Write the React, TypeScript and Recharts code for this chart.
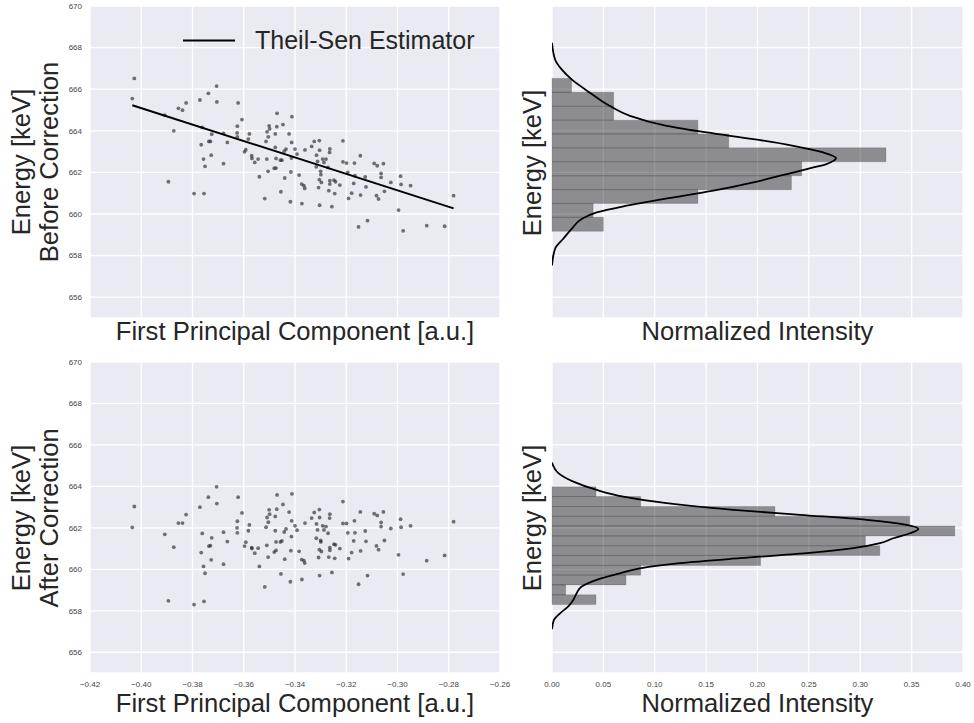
import {
  CartesianGrid,
  Legend,
  ReferenceArea,
  Scatter,
  ScatterChart,
  XAxis,
  YAxis,
} from "recharts";

const FONT = '"Liberation Sans", Arial, sans-serif';
const BG = "#EAEAF2";
const TEXT = "#262626";

// first principal component of each event (shared by both scatter panels)
const principal = [
  -0.4027, -0.4035, -0.3908, -0.3873, -0.3894, -0.3855, -0.3839, -0.3825, -0.3794, -0.3771,
  -0.3766, -0.3762, -0.3757, -0.3755, -0.3751, -0.3738, -0.3736, -0.373, -0.3727, -0.3725,
  -0.3706, -0.3705, -0.3679, -0.3679, -0.3664, -0.3622, -0.3625, -0.3626, -0.3625, -0.3607,
  -0.3597, -0.3592, -0.3582, -0.3578, -0.3569, -0.3568, -0.3557, -0.3544, -0.3539, -0.3518,
  -0.3513, -0.351, -0.3509, -0.3504, -0.3501, -0.3499, -0.3505, -0.3477, -0.3477, -0.3474,
  -0.3471, -0.347, -0.3481, -0.3474, -0.3457, -0.3451, -0.3455, -0.3447, -0.3442, -0.3435,
  -0.344, -0.3423, -0.3418, -0.3416, -0.3412, -0.3413, -0.3414, -0.34, -0.3392, -0.3384,
  -0.3374, -0.3373, -0.3365, -0.3362, -0.3361, -0.3335, -0.3325, -0.3316, -0.3317, -0.3312,
  -0.3305, -0.3304, -0.3308, -0.3304, -0.33, -0.3299, -0.3305, -0.3297, -0.3292, -0.3287,
  -0.3279, -0.3271, -0.3268, -0.3264, -0.3265, -0.3264, -0.3264, -0.3256, -0.3248, -0.3242,
  -0.3245, -0.3225, -0.3213, -0.3213, -0.3199, -0.3191, -0.3194, -0.3179, -0.3171, -0.3168,
  -0.3166, -0.3152, -0.3145, -0.3144, -0.3126, -0.3123, -0.3117, -0.3091, -0.3079, -0.3082,
  -0.3074, -0.3064, -0.3064, -0.3055, -0.3051, -0.3026, -0.2996, -0.2988, -0.2986, -0.2978,
  -0.2949, -0.2886, -0.2816, -0.2781,
];

const energyBefore = [
  666.52, 665.55, 664.75, 664.0, 661.55, 665.08, 664.99, 665.34, 660.98, 665.48,
  663.33, 664.16, 662.64, 660.98, 662.29, 665.8, 663.49, 663.49, 662.83, 663.84,
  666.15, 665.39, 662.42, 663.88, 663.44, 665.34, 664.22, 663.9, 663.71, 664.54,
  662.99, 663.09, 663.6, 663.85, 662.8, 662.67, 662.48, 662.64, 661.79, 660.74,
  663.49, 662.64, 663.95, 663.71, 664.24, 664.09, 662.05, 663.85, 663.2, 662.67,
  664.2, 664.84, 662.2, 662.21, 662.59, 662.59, 661.07, 664.3, 663.02, 663.12,
  661.73, 663.85, 660.59, 662.02, 664.68, 663.44, 662.69, 663.12, 662.88, 661.87,
  661.44, 660.5, 661.36, 661.23, 663.08, 663.25, 663.49, 662.83, 662.27, 662.53,
  663.53, 663.07, 661.27, 660.42, 662.05, 661.89, 661.65, 661.52, 662.64, 662.48,
  662.64, 662.24, 661.12, 663.13, 662.96, 661.6, 661.44, 660.35, 661.63, 661.55,
  660.98, 661.39, 663.52, 662.51, 662.45, 660.75, 662.0, 661.0, 661.47, 662.45,
  661.84, 659.38, 662.8, 660.91, 661.78, 661.3, 659.68, 662.43, 662.32, 660.88,
  660.72, 661.95, 661.76, 662.42, 661.09, 661.52, 660.19, 661.82, 661.42, 659.19,
  661.36, 659.44, 659.41, 660.88,
];

const energyAfter = [
  663.03, 662.02, 661.69, 661.07, 658.48, 662.23, 662.23, 662.64, 658.3, 663.0,
  660.81, 661.73, 660.14, 658.45, 659.81, 663.48, 661.12, 661.14, 660.46, 661.52,
  663.98, 663.17, 660.25, 661.79, 661.34, 663.48, 662.32, 662.0, 661.76, 662.72,
  661.12, 661.31, 661.86, 662.14, 661.05, 661.0, 660.78, 661.02, 660.14, 659.15,
  662.03, 661.16, 662.5, 662.27, 662.87, 662.66, 660.59, 662.55, 661.86, 661.32,
  662.9, 663.59, 660.83, 660.91, 661.32, 661.37, 659.78, 663.13, 661.8, 661.95,
  660.49, 662.76, 659.4, 660.9, 663.64, 662.34, 661.58, 662.1, 661.89, 660.87,
  660.47, 659.51, 660.42, 660.3, 662.23, 662.47, 662.74, 662.19, 661.5, 661.9,
  662.88, 662.5, 660.57, 659.7, 661.39, 661.32, 660.95, 660.86, 662.1, 661.9,
  662.06, 661.74, 660.59, 662.66, 662.47, 661.05, 660.92, 659.85, 661.21, 661.18,
  660.53, 661.0, 663.27, 662.21, 662.21, 660.52, 661.76, 660.81, 661.37, 662.34,
  661.76, 659.28, 662.77, 660.89, 661.85, 661.35, 659.7, 662.68, 662.6, 661.13,
  660.95, 662.26, 662.06, 662.77, 661.39, 661.97, 660.7, 662.42, 662.03, 659.77,
  662.1, 660.42, 660.67, 662.3,
];

// Theil-Sen fit end points
const fitPc = [-0.4035, -0.2781];
const fitEnergy = [665.23, 660.27];

// histograms (bin edges in keV, normalized heights)
const edgesBefore = [
  659.17, 659.84, 660.51, 661.17, 661.84, 662.51, 663.18, 663.85, 664.51, 665.18, 665.85, 666.52,
];
const histBefore = [0.05, 0.04, 0.142, 0.233, 0.243, 0.325, 0.172, 0.142, 0.06, 0.06, 0.019];

const edgesAfter = [
  658.3, 658.77, 659.25, 659.72, 660.19, 660.67, 661.14, 661.61, 662.09, 662.56, 663.03, 663.51,
  663.98,
];
const histAfter = [
  0.0428, 0.0133, 0.072, 0.0863, 0.203, 0.319, 0.305, 0.392, 0.348, 0.217, 0.0863, 0.0428,
];

// kernel density estimates
const kdeEnergyBefore = [
  668.23, 667.43, 666.95, 666.47, 665.83, 665.19, 664.72, 664.24, 663.92, 663.6, 663.28,
  662.96, 662.69, 662.4, 662.16, 661.84, 661.52, 661.12, 660.72, 660.4, 660.08, 659.76,
  659.28, 658.81, 658.33, 657.53,
];
const kdeBefore = [
  0, 0.003, 0.0094, 0.0191, 0.037, 0.0564, 0.0759, 0.1116, 0.1505, 0.196, 0.2349, 0.264,
  0.2764, 0.267, 0.248, 0.222, 0.196, 0.157, 0.108, 0.0727, 0.0435, 0.0289, 0.0191, 0.011,
  0.003, 0,
];

const kdeEnergyAfter = [
  665.15, 664.64, 664.23, 663.83, 663.51, 663.19, 662.87, 662.63, 662.39, 662.14, 661.95,
  661.74, 661.5, 661.26, 661.02, 660.78, 660.54, 660.3, 660.05, 659.81, 659.49, 659.17,
  658.85, 658.53, 658.21, 657.88, 657.56, 657.11,
];
const kdeAfter = [
  0, 0.0062, 0.0208, 0.0435, 0.0694, 0.1116, 0.1765, 0.2414, 0.3062, 0.3452, 0.3565,
  0.3484, 0.3322, 0.3192, 0.2933, 0.2479, 0.183, 0.1246, 0.0856, 0.0662, 0.0435, 0.0289,
  0.024, 0.0208, 0.0159, 0.0078, 0.0019, 0,
];

const energyTicks = [656, 658, 660, 662, 664, 666, 668, 670];
const pcTicks = [-0.42, -0.4, -0.38, -0.36, -0.34, -0.32, -0.3, -0.28, -0.26];
const intensityTicks = [0, 0.05, 0.1, 0.15, 0.2, 0.25, 0.3, 0.35, 0.4];

const toPoints = (xs: number[], ys: number[]) => xs.map((x, i) => ({ x, y: ys[i] }));
const beforeData = toPoints(principal, energyBefore);
const afterData = toPoints(principal, energyAfter);
const fitData = toPoints(fitPc, fitEnergy);
const kdeBeforeData = toPoints(kdeBefore, kdeEnergyBefore);
const kdeAfterData = toPoints(kdeAfter, kdeEnergyAfter);

const fmt = (v: number) => v.toFixed(2).replace("-", "\u2212");
const tickStyle = { fontSize: 8, fill: "#444", fontFamily: FONT };
const TITLE_SIZE = 25.6;

const Dot = (props: any) => (
  <circle cx={props.cx} cy={props.cy} r={1.9} fill="#1a1a1a" fillOpacity={0.6} />
);
const Empty = () => <g />;

function ScatterPanel({ data, top, showTicks, legend }: any) {
  const height = showTicks ? 393 : 330;
  return (
    <div style={{ position: "absolute", left: 0, top }}>
      <ScatterChart
        width={520}
        height={height}
        margin={showTicks ? { top: 32, right: 20, bottom: 30, left: 0 } : { top: 6, right: 20, bottom: 12, left: 0 }}
      >
        <CartesianGrid fill={BG} stroke="#fff" strokeWidth={1.3} />
        <XAxis
          type="number"
          dataKey="x"
          domain={[-0.42, -0.26]}
          ticks={pcTicks}
          allowDataOverflow
          axisLine={false}
          tickLine={false}
          tickSize={0}
          tickMargin={8}
          height={showTicks ? 20 : 0}
          tick={showTicks ? tickStyle : Empty}
          tickFormatter={fmt}
        />
        <YAxis
          type="number"
          dataKey="y"
          domain={[655, 670]}
          ticks={energyTicks}
          allowDataOverflow
          width={90}
          axisLine={false}
          tickLine={false}
          tickSize={0}
          tickMargin={8}
          tick={tickStyle}
        />
        <Scatter data={data} shape={Dot} isAnimationActive={false} />
        {legend && (
          <Scatter
            data={fitData}
            line={{ stroke: "#000", strokeWidth: 2 }}
            shape={Empty}
            isAnimationActive={false}
          />
        )}
        {legend && (
          <Legend
            verticalAlign="middle"
            align="center"
            layout="horizontal"
            wrapperStyle={{ left: 183, top: 27.5, width: 320, height: 25 }}
            content={() => (
              <div
                style={{
                  display: "flex",
                  alignItems: "center",
                  height: 25,
                  fontSize: 25,
                  lineHeight: "25px",
                  fontFamily: FONT,
                  color: TEXT,
                  whiteSpace: "nowrap",
                }}
              >
                <svg width={52} height={25}>
                  <line x1={0} x2={52} y1={12.5} y2={12.5} stroke="#000" strokeWidth={2} />
                </svg>
                <span style={{ marginLeft: 20 }}>Theil-Sen Estimator</span>
              </div>
            )}
          />
        )}
      </ScatterChart>
    </div>
  );
}

function HistPanel({ edges, hist, kde, top, showTicks }: any) {
  const height = showTicks ? 393 : 330;
  return (
    <div style={{ position: "absolute", left: 500, top }}>
      <ScatterChart
        width={474}
        height={height}
        margin={showTicks ? { top: 32, right: 11, bottom: 30, left: 0 } : { top: 6, right: 11, bottom: 12, left: 0 }}
      >
        <CartesianGrid fill={BG} stroke="#fff" strokeWidth={1.3} />
        <XAxis
          type="number"
          dataKey="x"
          domain={[0, 0.4]}
          ticks={intensityTicks}
          allowDataOverflow
          axisLine={false}
          tickLine={false}
          tickSize={0}
          tickMargin={8}
          height={showTicks ? 20 : 0}
          tick={showTicks ? tickStyle : Empty}
          tickFormatter={(v: number) => v.toFixed(2)}
        />
        <YAxis
          type="number"
          dataKey="y"
          domain={[655, 670]}
          ticks={energyTicks}
          allowDataOverflow
          width={52}
          axisLine={false}
          tickLine={false}
          tick={Empty}
        />
        {hist.map((h: number, i: number) => (
          <ReferenceArea
            key={i}
            x1={0}
            x2={h}
            y1={edges[i]}
            y2={edges[i + 1]}
            fill="#000"
            fillOpacity={0.4}
            stroke="#000"
            strokeOpacity={0.15}
            strokeWidth={1}
          />
        ))}
        <Scatter
          data={kde}
          line={{ stroke: "#000", strokeWidth: 1.8 }}
          lineJointType="monotoneY"
          shape={Empty}
          isAnimationActive={false}
        />
      </ScatterChart>
    </div>
  );
}

function Titles() {
  const t = { fontSize: TITLE_SIZE, fill: TEXT, fontFamily: FONT };
  return (
    <svg
      width={974}
      height={723}
      style={{ position: "absolute", left: 0, top: 0, pointerEvents: "none" }}
    >
      <text x={295} y={340} textAnchor="middle" {...t}>First Principal Component [a.u.]</text>
      <text x={757.5} y={340} textAnchor="middle" {...t}>Normalized Intensity</text>
      <text x={295} y={712} textAnchor="middle" {...t}>First Principal Component [a.u.]</text>
      <text x={757.5} y={712} textAnchor="middle" {...t}>Normalized Intensity</text>

      <text transform="translate(30,162) rotate(-90)" textAnchor="middle" {...t}>Energy [keV]</text>
      <text transform="translate(58,162) rotate(-90)" textAnchor="middle" {...t}>Before Correction</text>
      <text transform="translate(541,163) rotate(-90)" textAnchor="middle" {...t}>Energy [keV]</text>

      <text transform="translate(30,518) rotate(-90)" textAnchor="middle" {...t}>Energy [keV]</text>
      <text transform="translate(58,518) rotate(-90)" textAnchor="middle" {...t}>After Correction</text>
      <text transform="translate(541,518) rotate(-90)" textAnchor="middle" {...t}>Energy [keV]</text>
    </svg>
  );
}

export default function App() {
  return (
    <div
      style={{
        position: "absolute",
        left: 0,
        top: 0,
        width: 974,
        height: 723,
        background: "#fff",
        fontFamily: FONT,
        overflow: "hidden",
      }}
    >
      <ScatterPanel data={beforeData} top={0} showTicks={false} legend />
      <ScatterPanel data={afterData} top={330} showTicks />
      <HistPanel edges={edgesBefore} hist={histBefore} kde={kdeBeforeData} top={0} showTicks={false} />
      <HistPanel edges={edgesAfter} hist={histAfter} kde={kdeAfterData} top={330} showTicks />
      <Titles />
    </div>
  );
}
